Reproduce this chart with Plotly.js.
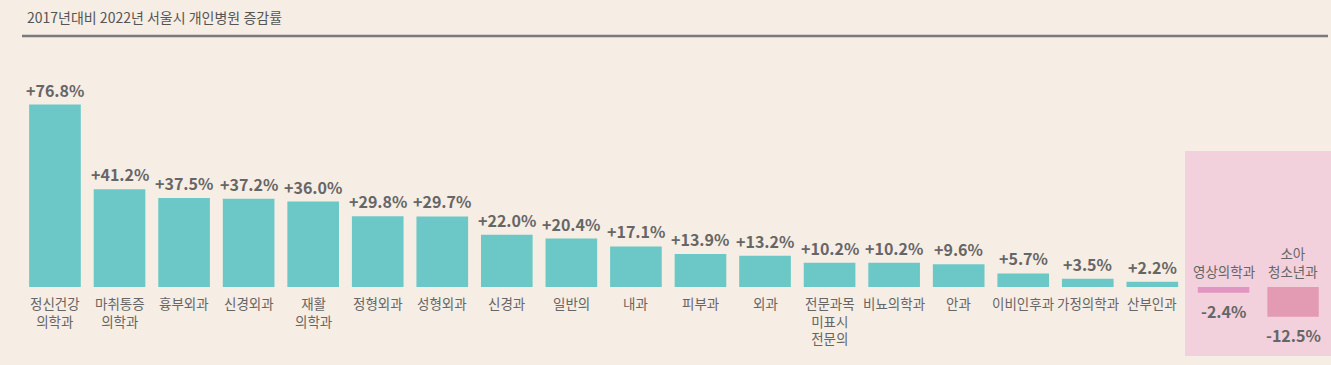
<!DOCTYPE html>
<html>
<head>
<meta charset="utf-8">
<script src="https://cdn.plot.ly/plotly-3.0.1.min.js"></script>
<style>
html,body{margin:0;padding:0;background:#f6ede4;}
#chart{width:1331px;height:365px;}
</style>
</head>
<body>
<div id="chart"></div>
<script>
// ---- data ----
const chartTitle = "2017년대비 2022년 서울시 개인병원 증감률";
const categories = ["정신건강의학과","마취통증의학과","흉부외과","신경외과","재활의학과","정형외과","성형외과","신경과","일반의","내과","피부과","외과","전문과목 미표시 전문의","비뇨의학과","안과","이비인후과","가정의학과","산부인과"];
const categoryLabels = ["정신건강<br>의학과","마취통증<br>의학과","흉부외과","신경외과","재활<br>의학과","정형외과","성형외과","신경과","일반의","내과","피부과","외과","전문과목<br>미표시<br>전문의","비뇨의학과","안과","이비인후과","가정의학과","산부인과"];
const values = [76.8, 41.2, 37.5, 37.2, 36.0, 29.8, 29.7, 22.0, 20.4, 17.1, 13.9, 13.2, 10.2, 10.2, 9.6, 5.7, 3.5, 2.2];
const negCategories = ["영상의학과","소아청소년과"];
const negCategoryLabels = ["영상의학과","소아<br>청소년과"];
const negValues = [-2.4, -12.5];

// ---- styles ----
const W = 1331, H = 365;
const teal = "#6cc8c6";
const negColors = ["#e096c0", "#e39bb3"];
const txt = "#666666";
const kfont = "'Noto Sans CJK KR', 'Noto Sans', sans-serif";
const fmt = v => (v > 0 ? "+" : "") + v.toFixed(1) + "%";

const traces = [
  {type: "bar", x: categories, y: values, xaxis: "x", yaxis: "y",
   marker: {color: teal}, width: 0.8, hoverinfo: "skip"},
  {type: "bar", x: negCategories, y: negValues, xaxis: "x2", yaxis: "y",
   marker: {color: negColors}, width: 0.74, hoverinfo: "skip"}
];

const annotations = [];
categories.forEach((c, i) => {
  annotations.push({xref: "x", yref: "y", x: c, y: values[i], text: "<b>" + fmt(values[i]) + "</b>",
    showarrow: false, yanchor: "bottom", yshift: 1, font: {family: kfont, size: 16, color: txt}});
  annotations.push({xref: "x", yref: "y", x: c, y: 0, text: categoryLabels[i],
    showarrow: false, yanchor: "top", yshift: -4, font: {family: kfont, size: 13.5, color: txt}});
});
negCategories.forEach((c, i) => {
  annotations.push({xref: "x2", yref: "y", x: c, y: negValues[i], text: "<b>" + fmt(negValues[i]) + "</b>",
    showarrow: false, yanchor: "top", yshift: -4, font: {family: kfont, size: 16, color: txt}});
  annotations.push({xref: "x2", yref: "y", x: c, y: 0, text: negCategoryLabels[i],
    showarrow: false, yanchor: "bottom", yshift: 4, font: {family: kfont, size: 13.5, color: txt}});
});

const baseY = 287, pxPer = 2.375;
const layout = {
  width: W, height: H,
  margin: {l: 0, r: 0, t: 0, b: 0},
  paper_bgcolor: "#f6ede4", plot_bgcolor: "rgba(0,0,0,0)",
  showlegend: false,
  title: {text: chartTitle, x: 27 / W, xanchor: "left", xref: "paper",
          y: 1 - 18 / H, yanchor: "middle", yref: "container",
          font: {family: kfont, size: 14, color: "#555555"}},
  xaxis: {domain: [22.7 / W, 1184.6 / W], range: [-0.5, categories.length - 0.5], visible: false, type: "category", fixedrange: true},
  xaxis2: {domain: [1188.8 / W, 1327.8 / W], range: [-0.5, negCategories.length - 0.5], visible: false, type: "category", anchor: "y", fixedrange: true},
  yaxis: {range: [-(H - baseY) / pxPer, baseY / pxPer], visible: false, fixedrange: true},
  shapes: [
    {type: "rect", xref: "paper", yref: "paper", x0: 1185 / W, x1: 1, y0: 1 - 356 / H, y1: 1 - 151 / H,
     fillcolor: "#f2d0dc", line: {width: 0}, layer: "below"},
    {type: "line", xref: "paper", yref: "paper", x0: 22 / W, x1: 1328 / W, y0: 1 - 36 / H, y1: 1 - 36 / H,
     line: {color: "#7a7a7a", width: 2.5}}
  ],
  annotations: annotations
};

Plotly.newPlot("chart", traces, layout, {displayModeBar: false, staticPlot: true});
</script>
</body>
</html>
